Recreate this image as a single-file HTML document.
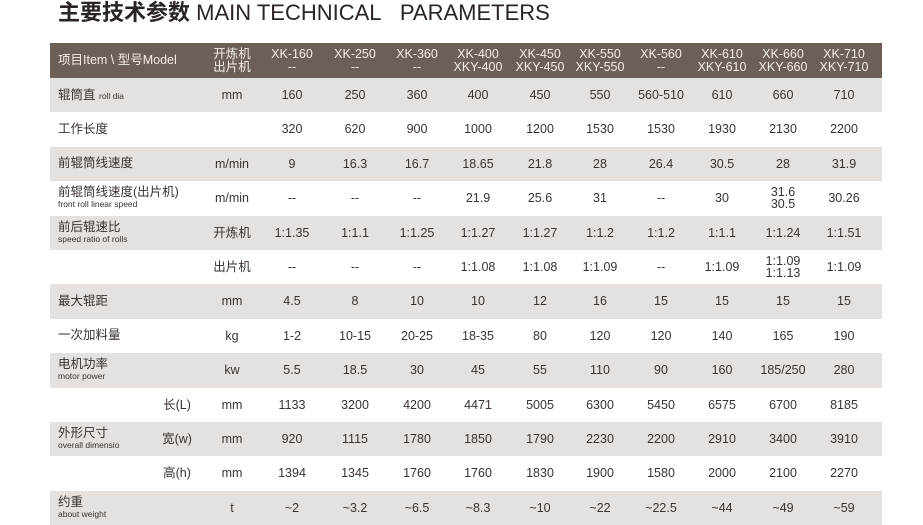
<!DOCTYPE html>
<html><head><meta charset="utf-8"><style>
body{margin:0;width:923px;height:525px;background:#fff;position:relative;overflow:hidden;font-family:"Liberation Sans","Noto Sans CJK SC",sans-serif;color:#3a3330}
.t{position:absolute;left:58px;top:0;font-size:22px;line-height:26px;color:#2a2422;white-space:nowrap}
.t b{font-weight:bold}
.r{position:absolute;left:50px;width:832px;height:34.4px}
.g{background:#e5e1de}
.h{background:#6c5f57;color:#f3eeea;top:43px;height:35px}
.c{position:absolute;top:0;height:100%;width:64px;display:flex;flex-direction:column;justify-content:center;align-items:center;font-size:12.5px;line-height:12.5px;text-align:center;white-space:nowrap}
.l{position:absolute;left:8px;top:0;height:100%;display:flex;flex-direction:column;justify-content:center;font-size:12.5px;line-height:13px;white-space:nowrap}
.l small{font-size:8.5px;line-height:11px}
.u{left:150px}.s{left:95px}
.a{left:210px}.b{left:273px}.d{left:335px}.e{left:396px}.f{left:458px}.k{left:518px}.m{left:579px}.n{left:640px}.o{left:701px}.p{left:762px}
</style></head><body>
<div class="t"><b>主要技术参数</b> MAIN TECHNICAL&nbsp;&nbsp; PARAMETERS</div>

<div class="r h"><div class="l">项目Item \ 型号Model</div><div class="c u">开炼机<br>出片机</div>
<div class="c a">XK-160<br>--</div><div class="c b">XK-250<br>--</div><div class="c d">XK-360<br>--</div><div class="c e">XK-400<br>XKY-400</div><div class="c f">XK-450<br>XKY-450</div><div class="c k">XK-550<br>XKY-550</div><div class="c m">XK-560<br>--</div><div class="c n">XK-610<br>XKY-610</div><div class="c o">XK-660<br>XKY-660</div><div class="c p">XK-710<br>XKY-710</div></div>

<div class="r g" style="top:78px"><div class="l"><span>辊筒直 <small>roll dia</small></span></div><div class="c u">mm</div>
<div class="c a">160</div><div class="c b">250</div><div class="c d">360</div><div class="c e">400</div><div class="c f">450</div><div class="c k">550</div><div class="c m">560-510</div><div class="c n">610</div><div class="c o">660</div><div class="c p">710</div></div>

<div class="r" style="top:112.4px"><div class="l">工作长度</div>
<div class="c a">320</div><div class="c b">620</div><div class="c d">900</div><div class="c e">1000</div><div class="c f">1200</div><div class="c k">1530</div><div class="c m">1530</div><div class="c n">1930</div><div class="c o">2130</div><div class="c p">2200</div></div>

<div class="r g" style="top:146.8px"><div class="l">前辊筒线速度</div><div class="c u">m/min</div>
<div class="c a">9</div><div class="c b">16.3</div><div class="c d">16.7</div><div class="c e">18.65</div><div class="c f">21.8</div><div class="c k">28</div><div class="c m">26.4</div><div class="c n">30.5</div><div class="c o">28</div><div class="c p">31.9</div></div>

<div class="r" style="top:181.2px"><div class="l">前辊筒线速度(出片机)<small>front roll linear speed</small></div><div class="c u">m/min</div>
<div class="c a">--</div><div class="c b">--</div><div class="c d">--</div><div class="c e">21.9</div><div class="c f">25.6</div><div class="c k">31</div><div class="c m">--</div><div class="c n">30</div><div class="c o">31.6<br>30.5</div><div class="c p">30.26</div></div>

<div class="r g" style="top:215.6px"><div class="l">前后辊速比<small>speed ratio of rolls</small></div><div class="c u">开炼机</div>
<div class="c a">1:1.35</div><div class="c b">1:1.1</div><div class="c d">1:1.25</div><div class="c e">1:1.27</div><div class="c f">1:1.27</div><div class="c k">1:1.2</div><div class="c m">1:1.2</div><div class="c n">1:1.1</div><div class="c o">1:1.24</div><div class="c p">1:1.51</div></div>

<div class="r" style="top:250px"><div class="c u">出片机</div>
<div class="c a">--</div><div class="c b">--</div><div class="c d">--</div><div class="c e">1:1.08</div><div class="c f">1:1.08</div><div class="c k">1:1.09</div><div class="c m">--</div><div class="c n">1:1.09</div><div class="c o">1:1.09<br>1:1.13</div><div class="c p">1:1.09</div></div>

<div class="r g" style="top:284.4px"><div class="l">最大辊距</div><div class="c u">mm</div>
<div class="c a">4.5</div><div class="c b">8</div><div class="c d">10</div><div class="c e">10</div><div class="c f">12</div><div class="c k">16</div><div class="c m">15</div><div class="c n">15</div><div class="c o">15</div><div class="c p">15</div></div>

<div class="r" style="top:318.8px"><div class="l">一次加料量</div><div class="c u">kg</div>
<div class="c a">1-2</div><div class="c b">10-15</div><div class="c d">20-25</div><div class="c e">18-35</div><div class="c f">80</div><div class="c k">120</div><div class="c m">120</div><div class="c n">140</div><div class="c o">165</div><div class="c p">190</div></div>

<div class="r g" style="top:353.2px"><div class="l">电机功率<small>motor power</small></div><div class="c u">kw</div>
<div class="c a">5.5</div><div class="c b">18.5</div><div class="c d">30</div><div class="c e">45</div><div class="c f">55</div><div class="c k">110</div><div class="c m">90</div><div class="c n">160</div><div class="c o">185/250</div><div class="c p">280</div></div>

<div class="r" style="top:387.6px"><div class="c s">长(L)</div><div class="c u">mm</div>
<div class="c a">1133</div><div class="c b">3200</div><div class="c d">4200</div><div class="c e">4471</div><div class="c f">5005</div><div class="c k">6300</div><div class="c m">5450</div><div class="c n">6575</div><div class="c o">6700</div><div class="c p">8185</div></div>

<div class="r g" style="top:422px"><div class="l">外形尺寸<small>overall dimensio</small></div><div class="c s">宽(w)</div><div class="c u">mm</div>
<div class="c a">920</div><div class="c b">1115</div><div class="c d">1780</div><div class="c e">1850</div><div class="c f">1790</div><div class="c k">2230</div><div class="c m">2200</div><div class="c n">2910</div><div class="c o">3400</div><div class="c p">3910</div></div>

<div class="r" style="top:456.4px"><div class="c s">高(h)</div><div class="c u">mm</div>
<div class="c a">1394</div><div class="c b">1345</div><div class="c d">1760</div><div class="c e">1760</div><div class="c f">1830</div><div class="c k">1900</div><div class="c m">1580</div><div class="c n">2000</div><div class="c o">2100</div><div class="c p">2270</div></div>

<div class="r g" style="top:490.8px"><div class="l">约重<small>about weight</small></div><div class="c u">t</div>
<div class="c a">~2</div><div class="c b">~3.2</div><div class="c d">~6.5</div><div class="c e">~8.3</div><div class="c f">~10</div><div class="c k">~22</div><div class="c m">~22.5</div><div class="c n">~44</div><div class="c o">~49</div><div class="c p">~59</div></div>
</body></html>
